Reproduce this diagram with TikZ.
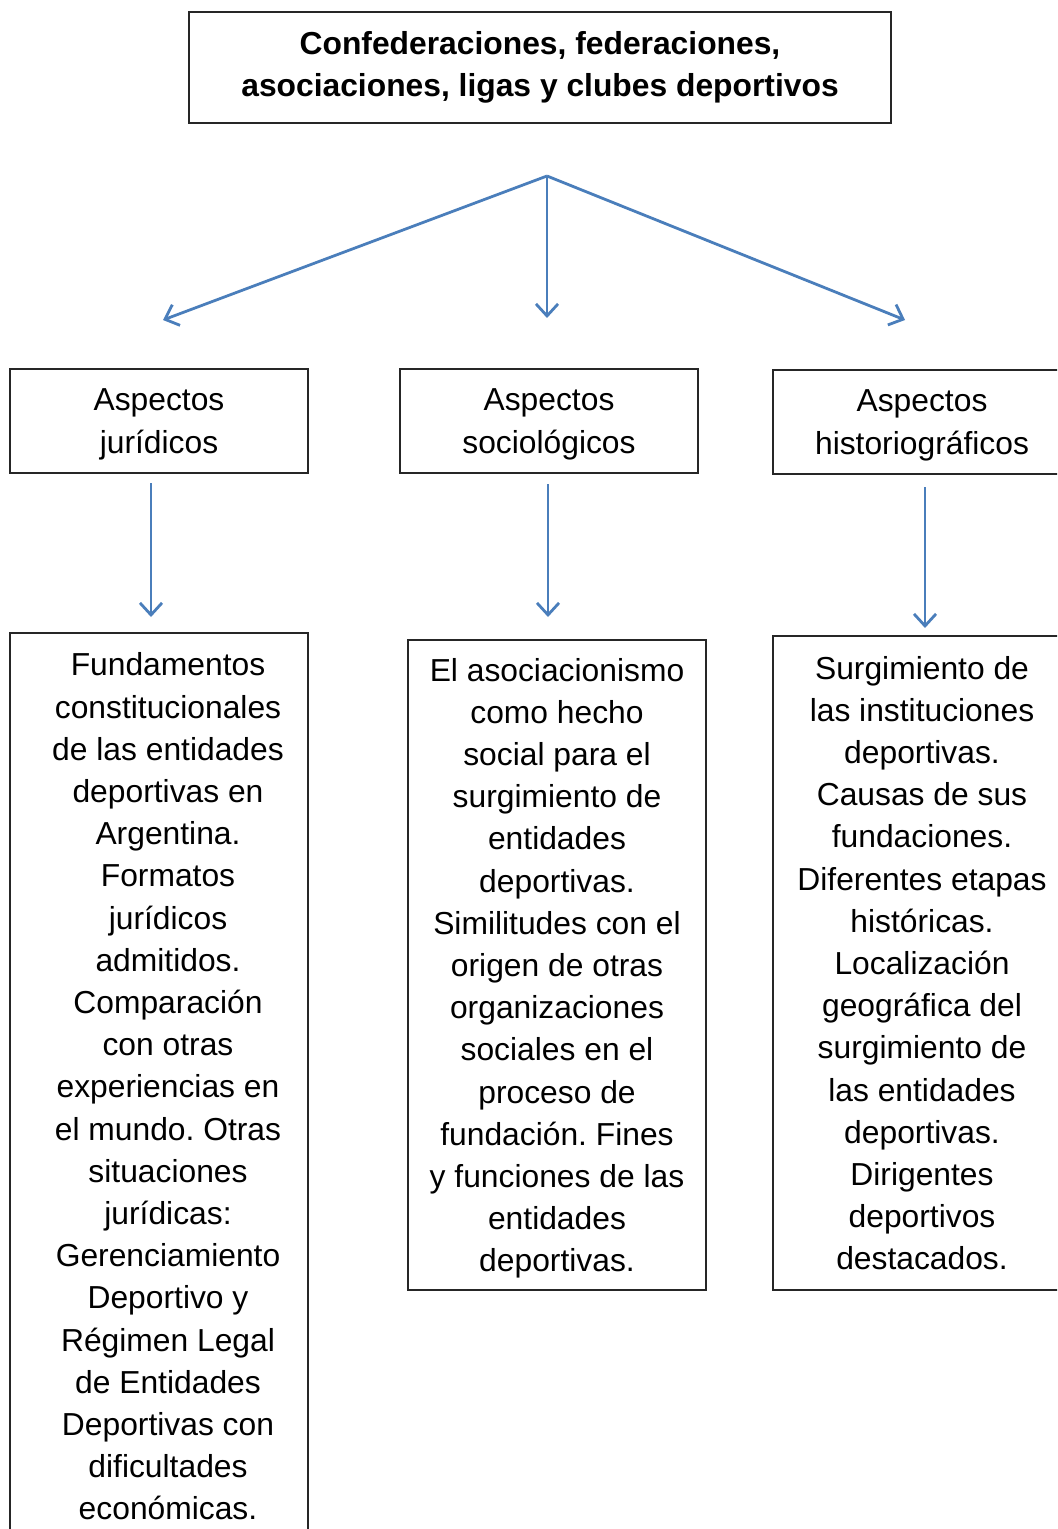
\documentclass[tikz,border=0pt]{standalone}
\usepackage{fontspec}
\setmainfont{Liberation Sans}
\usetikzlibrary{arrows.meta}
\definecolor{flecha}{RGB}{74,126,187}
\frenchspacing

\begin{document}
\begin{tikzpicture}[x=0.5pt,y=-0.5pt,
  caja/.style={shape=rectangle,draw=black!85,line width=0.9pt,fill=white,inner sep=0pt,
    minimum width=149pt,align=center,font=\fontsize{15.9}{21.1}\selectfont},
  bajo/.style={text depth=0pt},
  flechita/.style={draw=flecha,line width=1.4pt,-{Straight Barb[length=6pt,width=11pt,line width=1.4pt]}}]
\useasboundingbox (0,0) rectangle (1057,1529);
\clip (0,0) rectangle (1057,1529);

\node[caja,minimum width=351pt,minimum height=55.5pt,font=\fontsize{15.9}{21.1}\selectfont\bfseries] (top) at (540,67.5) {Confederaciones, federaciones,\\asociaciones, ligas y clubes deportivos};

\node[caja,bajo,minimum height=52pt] (asA) at (159,421) {Aspectos\\jurídicos};
\node[caja,bajo,minimum height=52pt] (asB) at (549,421) {Aspectos\\sociológicos};
\node[caja,bajo,minimum height=52pt] (asC) at (922,422) {Aspectos\\historiográficos};

\node[caja,minimum height=456.5pt,align=none] (tmA) at (159,1089.5) {\hspace*{9pt}\begin{tabular}{@{}c@{}}Fundamentos\\constitucionales\\de las entidades\\deportivas en\\Argentina.\\Formatos\\jurídicos\\admitidos.\\Comparación\\con otras\\experiencias en\\el mundo. Otras\\situaciones\\jurídicas:\\Gerenciamiento\\Deportivo y\\Régimen Legal\\de Entidades\\Deportivas con\\dificultades\\económicas.\end{tabular}};
\node[caja,bajo,minimum height=325pt] (tmB) at (557,965) {El asociacionismo\\como hecho\\social para el\\surgimiento de\\entidades\\deportivas.\\Similitudes con el\\origen de otras\\organizaciones\\sociales en el\\proceso de\\fundación. Fines\\y funciones de las\\entidades\\deportivas.};
\node[caja,bajo,minimum height=327pt] (tmC) at (922,963) {Surgimiento de\\las instituciones\\deportivas.\\Causas de sus\\fundaciones.\\Diferentes etapas\\históricas.\\Localización\\geográfica del\\surgimiento de\\las entidades\\deportivas.\\Dirigentes\\deportivos\\destacados.};

\coordinate (split) at (547,176);
\coordinate (pA) at (163,320);
\coordinate (pB) at (547,318);
\coordinate (pC) at (905,320);
\coordinate (qA1) at (151,483);
\coordinate (qA2) at (151,617);
\coordinate (qB1) at (548,484);
\coordinate (qB2) at (548,617);
\coordinate (qC1) at (925,487);
\coordinate (qC2) at (925,628);

\draw [flechita] (split) -- (pA);
\draw [flechita] (split) -- (pB);
\draw [flechita] (split) -- (pC);
\draw [flechita] (qA1) -- (qA2);
\draw [flechita] (qB1) -- (qB2);
\draw [flechita] (qC1) -- (qC2);
\end{tikzpicture}
\end{document}
